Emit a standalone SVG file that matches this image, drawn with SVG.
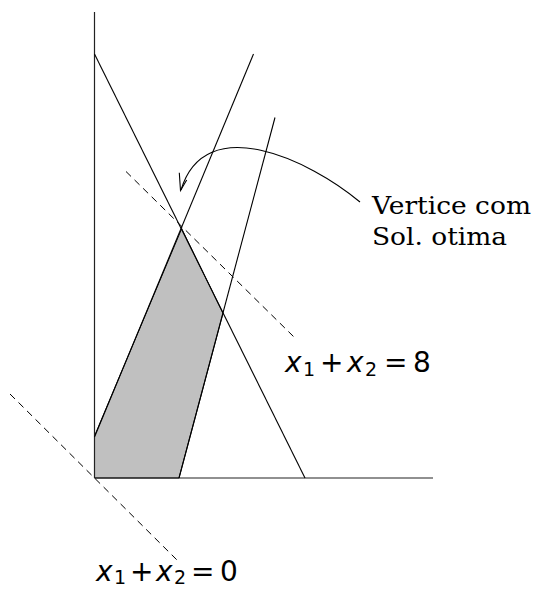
<svg xmlns="http://www.w3.org/2000/svg" width="533" height="589" viewBox="0 0 533 589">
<style>
.ln{fill:none;stroke:#000;stroke-width:1.1}
.ax{fill:none;stroke:#222;stroke-width:1.2}
.dash{fill:none;stroke:#000;stroke-width:1;stroke-dasharray:7 5}
.rm{font-family:"DejaVu Serif","Liberation Serif",serif;font-size:24px;fill:#000}
.mt{font-family:"DejaVu Sans","Liberation Sans",sans-serif;font-size:28px;fill:#000}
.it{font-style:italic}
.sb{font-size:19px}
</style>
<rect width="533" height="589" fill="#fff"/>
<g id="region">
<polygon points="94.5,478 94.5,436 181.7,228.6 223,313.3 179,478" fill="#c0c0c0" stroke="#000" stroke-width="1"/>
</g>
<g id="axes">
<line class="ax" x1="94.5" y1="12" x2="94.5" y2="478"/>
<line class="ax" x1="94.5" y1="478" x2="433" y2="478"/>
</g>
<g id="constraints">
<line class="ln" x1="94.5" y1="54" x2="305" y2="478"/>
<line class="ln" x1="253.5" y1="54" x2="94.5" y2="437"/>
<line class="ln" x1="275" y1="117.5" x2="179" y2="478"/>
</g>
<g id="objective">
<line class="dash" x1="126" y1="171.5" x2="296" y2="339"/>
<line class="dash" x1="10" y1="394" x2="180" y2="563"/>
</g>
<g id="connectors">
<path class="ln" d="M360,202 C310,160 205,110 181,190"/>
<polyline class="ln" points="179.3,172.7 180.5,190.5 186.7,180"/>
</g>
<g id="label-vertice">
<text class="rm" x="372" y="213.5" textLength="159" lengthAdjust="spacingAndGlyphs">Vertice com</text>
<text class="rm" x="372" y="245" textLength="135" lengthAdjust="spacingAndGlyphs">Sol. otima</text>
</g>
<g id="label-8">
<text class="mt" y="372"><tspan class="it" x="285">x</tspan><tspan class="sb" x="303" dy="4">1</tspan><tspan x="320" dy="-4">+</tspan><tspan class="it" x="347">x</tspan><tspan class="sb" x="365" dy="4">2</tspan><tspan x="384" dy="-4">=</tspan><tspan x="413">8</tspan></text>
</g>
<g id="label-0">
<text class="mt" y="581"><tspan class="it" x="96">x</tspan><tspan class="sb" x="114" dy="3">1</tspan><tspan x="130" dy="-3">+</tspan><tspan class="it" x="156">x</tspan><tspan class="sb" x="174" dy="3">2</tspan><tspan x="191" dy="-3">=</tspan><tspan x="220">0</tspan></text>
</g>
</svg>
